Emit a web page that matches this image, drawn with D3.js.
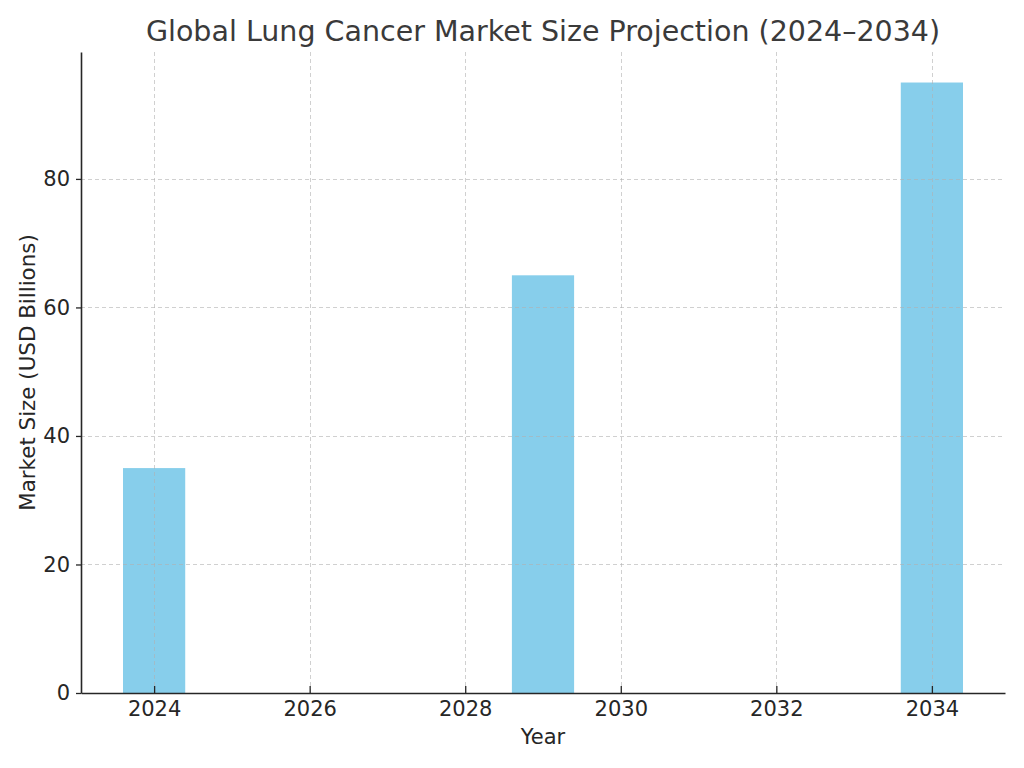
<!DOCTYPE html>
<html>
<head>
	<meta charset="utf-8">
	<title>Global Lung Cancer Market Size Projection</title>
	<script src="https://cdn.jsdelivr.net/npm/d3@7"></script>
	<style>
		body { margin: 0; background: #fff; }
		text { font-family: "DejaVu Sans", sans-serif; fill: #262626; }
	</style>
</head>
<body>
<div id="chart"></div>
<script>
// chart data
var years = [2024, 2029, 2034];
var marketSize = [35, 65, 95];
var xTicks = [2024, 2026, 2028, 2030, 2032, 2034];
var yTicks = [0, 20, 40, 60, 80];

var width = 1024,
	height = 768;
var margin = {top: 52, right: 19, bottom: 75, left: 81};
var plotW = width - margin.left - margin.right,
	plotH = height - margin.top - margin.bottom;
var barW = 0.8;

var svg = d3.select("#chart")
	.append("svg")
	.attr("width", width)
	.attr("height", height);

// matplotlib-like 5% margins around the bars
var xmin = d3.min(years) - barW / 2, xmax = d3.max(years) + barW / 2;
var xpad = (xmax - xmin) * 0.05;
var x = d3.scaleLinear()
	.domain([xmin - xpad, xmax + xpad])
	.range([margin.left, margin.left + plotW]);

var ymax = d3.max(marketSize) * 1.05;
var y = d3.scaleLinear()
	.domain([0, ymax])
	.range([margin.top + plotH, margin.top]);

// bars
svg.append("g").selectAll("rect")
	.data(years)
	.enter().append("rect")
	.attr("x", function(d) { return x(d - barW / 2); })
	.attr("width", function(d) { return x(d + barW / 2) - x(d - barW / 2); })
	.attr("y", function(d, i) { return y(marketSize[i]); })
	.attr("height", function(d, i) { return y(0) - y(marketSize[i]); })
	.attr("fill", "#87CEEB");

// grid drawn over the bars
var grid = svg.append("g")
	.attr("stroke", "#b0b0b0")
	.attr("stroke-opacity", 0.6)
	.attr("stroke-width", 1)
	.attr("stroke-dasharray", "4,3");
grid.selectAll(".gx")
	.data(xTicks)
	.enter().append("line")
	.attr("x1", function(d) { return Math.round(x(d)) + 0.5; })
	.attr("x2", function(d) { return Math.round(x(d)) + 0.5; })
	.attr("y1", margin.top)
	.attr("y2", margin.top + plotH);
grid.selectAll(".gy")
	.data(yTicks)
	.enter().append("line")
	.attr("x1", margin.left)
	.attr("x2", margin.left + plotW)
	.attr("y1", function(d) { return Math.round(y(d)) + 0.5; })
	.attr("y2", function(d) { return Math.round(y(d)) + 0.5; });

// x axis: ticks point inwards
var xAxis = svg.append("g")
	.attr("transform", "translate(0," + (margin.top + plotH) + ")")
	.call(d3.axisBottom(x).tickValues(xTicks).tickFormat(d3.format("d")).tickSizeInner(-7).tickSizeOuter(0).tickPadding(8));
xAxis.select(".domain").attr("stroke", "#262626").attr("stroke-width", 1.6);
xAxis.selectAll(".tick line").attr("stroke", "#262626").attr("stroke-width", 1.3);
xAxis.selectAll("text").attr("font-size", "21px").attr("fill", "#262626");

var yAxis = svg.append("g")
	.attr("transform", "translate(" + margin.left + ",0)")
	.call(d3.axisLeft(y).tickValues(yTicks).tickSize(5).tickSizeOuter(0).tickPadding(6));
yAxis.select(".domain").attr("stroke", "#262626").attr("stroke-width", 1.6);
yAxis.selectAll(".tick line").attr("stroke", "#262626").attr("stroke-width", 1.3);
yAxis.selectAll("text").attr("font-size", "21px").attr("fill", "#262626");

// title and labels
svg.append("text")
	.attr("x", margin.left + plotW / 2)
	.attr("y", 41)
	.attr("text-anchor", "middle")
	.attr("font-size", "28.5px")
	.style("fill", "#3a3a3a")
	.text("Global Lung Cancer Market Size Projection (2024\u20132034)");

svg.append("text")
	.attr("x", margin.left + plotW / 2)
	.attr("y", 744)
	.attr("text-anchor", "middle")
	.attr("font-size", "21px")
	.text("Year");

svg.append("text")
	.attr("transform", "translate(35," + (margin.top + plotH / 2) + ") rotate(-90)")
	.attr("text-anchor", "middle")
	.attr("font-size", "21.4px")
	.text("Market Size (USD Billions)");
</script>
</body>
</html>
